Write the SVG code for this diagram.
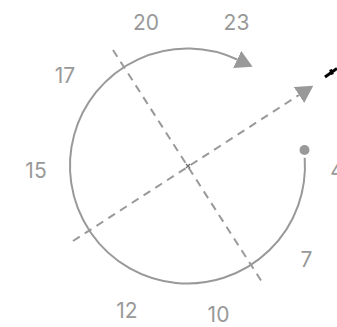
<svg xmlns="http://www.w3.org/2000/svg" width="337" height="327" viewBox="0 0 337 327">
  <style>
    .lbl { font-family: Inter, "Liberation Sans", Arial, sans-serif; font-size: 21px; fill: #999999; text-anchor: middle; }
    .circ { fill: none; stroke: #999999; stroke-width: 2; }
    .dash { fill: none; stroke: #999999; stroke-width: 2; stroke-dasharray: 8 6; }
  </style>
  <defs>
    <marker id="tri" markerUnits="userSpaceOnUse" viewBox="0 0 17 19" refX="0" refY="9.5" markerWidth="17" markerHeight="19" orient="auto">
      <path d="M0,0 L17,9.5 L0,19 Z" fill="#999999"/>
    </marker>
  </defs>
  <rect width="337" height="327" fill="#ffffff"/>
  <g id="connectors">
    <path id="axis1" class="dash" d="M113,50 L262,282"/>
    <path id="axis2" class="dash" d="M73,241 L299,95" marker-end="url(#tri)"/>
    <path id="rotation" class="circ" d="M304.7,157.8 A117.5,117.5 0 1 1 237.2,59.5" marker-end="url(#tri)"/>
  </g>
  <g id="start-dot"><circle cx="304.5" cy="150" r="5" fill="#999999"/></g>
  <g id="center"><path d="M186,164 L190,168 M190,164 L186,168" stroke="#666666" stroke-width="1.2"/></g>
  <g id="edge-mark"><path d="M325,77 L337,68.5 M330.5,69.5 L332.5,74.5" fill="none" stroke="#000000" stroke-width="3"/></g>
  <g id="labels">
    <text class="lbl" x="146" y="30">20</text>
    <text class="lbl" x="236.5" y="30">23</text>
    <text class="lbl" x="65" y="83">17</text>
    <text class="lbl" x="36" y="178">15</text>
    <text class="lbl" x="337" y="178">4</text>
    <text class="lbl" x="306.5" y="267">7</text>
    <text class="lbl" x="127" y="318">12</text>
    <text class="lbl" x="218.5" y="322">10</text>
  </g>
</svg>
